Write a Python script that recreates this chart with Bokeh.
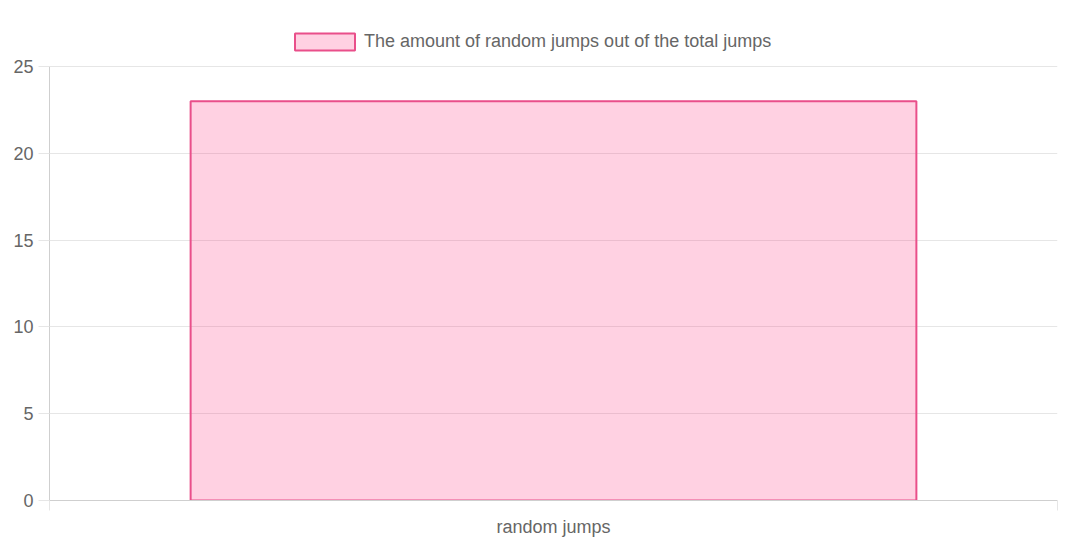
from bokeh.plotting import figure
from bokeh.models import FixedTicker, Legend, LegendItem, Range1d, ColumnDataSource
from bokeh.embed import file_html
from bokeh.resources import INLINE

categories = ["random jumps"]
values = [23]
series_label = "The amount of random jumps out of the total jumps"
y_ticks = [0, 5, 10, 15, 20, 25]
y_max = 25

xs = [i + 0.5 for i in range(len(categories))]
src = ColumnDataSource(dict(x=xs, top=values, cat=categories))

FONT = "Liberation Sans"
TXT = "#666666"
GRID = "#e6e6e6"
AXIS = "#cfcfcf"

# frame extends above the value axis so the legend can live inside it
FRAME_TOP, FRAME_BOTTOM, AXIS_TOP = 20, 500, 66
y_end = y_max * (FRAME_BOTTOM - FRAME_TOP) / (FRAME_BOTTOM - AXIS_TOP)

p = figure(width=1072, height=550, output_backend="svg", toolbar_location=None,
           x_range=Range1d(0, len(categories)), y_range=Range1d(0, y_end),
           min_border_left=49, min_border_right=15, min_border_top=FRAME_TOP,
           min_border_bottom=550 - FRAME_BOTTOM)
p.outline_line_color = None
p.background_fill_color = "white"

r = p.vbar(x="x", top="top", width=0.72, bottom=0, source=src,
           fill_color=(255, 56, 129), fill_alpha=0.23,
           line_color="#e94f8a", line_width=2)

# y axis
p.yaxis.bounds = (0, y_max)
p.yaxis.ticker = FixedTicker(ticks=y_ticks, minor_ticks=[])
p.yaxis.axis_line_color = AXIS
p.yaxis.major_tick_line_color = GRID
p.yaxis.major_tick_out = 11
p.yaxis.major_tick_in = 0
p.yaxis.minor_tick_line_color = None
p.yaxis.major_label_standoff = 5
p.yaxis.major_label_text_font = FONT
p.yaxis.major_label_text_font_size = "18px"
p.yaxis.major_label_text_color = TXT

# x axis
p.xaxis.ticker = FixedTicker(ticks=xs, minor_ticks=list(range(len(categories) + 1)))
p.xaxis.major_label_overrides = {x: c for x, c in zip(xs, categories)}
p.xaxis.axis_line_color = AXIS
p.xaxis.major_tick_line_color = None
p.xaxis.major_tick_out = 0
p.xaxis.major_tick_in = 0
p.xaxis.minor_tick_line_color = GRID
p.xaxis.minor_tick_out = 10
p.xaxis.minor_tick_in = 0
p.xaxis.major_label_standoff = 6
p.xaxis.major_label_text_font = FONT
p.xaxis.major_label_text_font_size = "18px"
p.xaxis.major_label_text_color = TXT

# grids
p.xgrid.ticker = FixedTicker(ticks=list(range(len(categories) + 1)))
p.xgrid.grid_line_color = GRID
p.xgrid.bounds = (0, y_max)
p.ygrid.ticker = FixedTicker(ticks=y_ticks)
p.ygrid.grid_line_color = GRID

legend = Legend(items=[LegendItem(label=series_label, renderers=[r])],
                location=(238, FRAME_BOTTOM - 52), orientation="horizontal",
                glyph_width=75, glyph_height=21, label_height=21,
                label_standoff=2, padding=0, margin=0, spacing=0,
                border_line_alpha=0, background_fill_alpha=0,
                label_text_font=FONT, label_text_font_size="18px",
                label_text_color=TXT)
p.add_layout(legend, "center")

open("out.html", "w").write(file_html(p, INLINE))
